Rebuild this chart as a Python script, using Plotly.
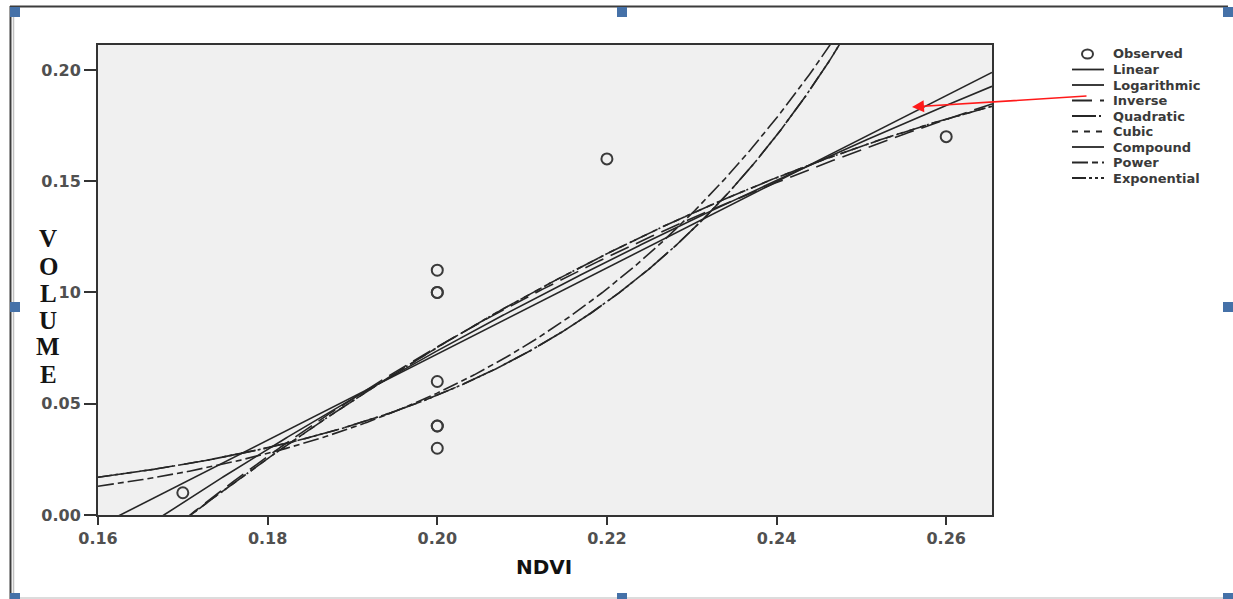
import numpy as np
import plotly.graph_objects as go

# ---------------- data ----------------
ndvi = [0.17, 0.20, 0.20, 0.20, 0.20, 0.20, 0.20, 0.20, 0.22, 0.26]
volume = [0.01, 0.11, 0.10, 0.10, 0.06, 0.04, 0.04, 0.03, 0.16, 0.17]

x_ticks = [0.16, 0.18, 0.20, 0.22, 0.24, 0.26]
x_tick_labels = ["0.16", "0.18", "0.20", "0.22", "0.24", "0.26"]
y_ticks = [0.00, 0.05, 0.10, 0.15, 0.20]
y_tick_labels = ["0.00", "0.05", "0.10", "0.15", "0.20"]
x_range = [0.16, 0.2654]
y_range = [0.0, 0.2112]

models = ["Linear", "Logarithmic", "Inverse", "Quadratic", "Cubic",
          "Compound", "Power", "Exponential"]
legend_labels = ["Observed"] + models
x_title = "NDVI"
y_title = "VOLUME"

# ---------------- curve estimation (least squares, SPSS-style) ----------------
X = np.array(ndvi, dtype=float)
Y = np.array(volume, dtype=float)
grid = np.linspace(x_range[0], x_range[1], 500)


def ols(cols, y):
    A = np.column_stack(cols)
    coef, *_ = np.linalg.lstsq(A, y, rcond=None)
    return coef


def poly_terms(deg, tol=1e-4):
    """Enter powers of x one by one, skipping terms failing the tolerance test."""
    keep = [0]
    for p in range(1, deg + 1):
        t = X ** p
        if len(keep) > 1:
            others = [X ** k for k in keep]
            c = ols(others, t)
            res = t - np.column_stack(others) @ c
            sst = np.sum((t - t.mean()) ** 2)
            if np.sum(res ** 2) / sst < tol:
                continue
        keep.append(p)
    return keep


def poly_fit(deg):
    keep = poly_terms(deg)
    c = ols([X ** k for k in keep], Y)
    return sum(ci * grid ** k for ci, k in zip(c, keep))


fits = {}
b = ols([np.ones_like(X), X], Y)
fits["Linear"] = b[0] + b[1] * grid
b = ols([np.ones_like(X), np.log(X)], Y)
fits["Logarithmic"] = b[0] + b[1] * np.log(grid)
b = ols([np.ones_like(X), 1.0 / X], Y)
fits["Inverse"] = b[0] + b[1] / grid
fits["Quadratic"] = poly_fit(2)
fits["Cubic"] = poly_fit(3)
b = ols([np.ones_like(X), X], np.log(Y))
fits["Compound"] = np.exp(b[0]) * np.exp(b[1]) ** grid
b = ols([np.ones_like(X), np.log(X)], np.log(Y))
fits["Power"] = np.exp(b[0]) * grid ** b[1]
b = ols([np.ones_like(X), X], np.log(Y))
fits["Exponential"] = np.exp(b[0]) * np.exp(b[1] * grid)

styles = {
    "Linear": "solid",
    "Logarithmic": "solid",
    "Inverse": "20px,8px",
    "Quadratic": "24px,3px,2px,3px",
    "Cubic": "6px,6px",
    "Compound": "34px,8px",
    "Power": "16px,4px,6px,4px",
    "Exponential": "14px,3px,3px,3px,3px,3px",
}

LINE = "#262626"

fig = go.Figure()
for m in models:
    fig.add_trace(go.Scatter(
        x=grid, y=fits[m], mode="lines", name=m, showlegend=False,
        line=dict(color=LINE, width=1.6, dash=styles[m]),
    ))
fig.add_trace(go.Scatter(
    x=ndvi, y=volume, mode="markers", name="Observed", showlegend=False,
    marker=dict(symbol="circle-open", size=11, color="#3a3a3a",
                line=dict(width=2, color="#3a3a3a")),
))

# ---------------- layout geometry (reference pixel coordinates) ----------------
W, H = 1233, 599
L, R, T, B = 98, 992, 45, 515


def px(xp):
    return (xp - L) / (R - L)


def py(yp):
    return (B - yp) / (B - T)


tick_font = dict(family="DejaVu Sans", size=16, color="#505050")

fig.update_layout(
    width=W, height=H,
    margin=dict(l=L, r=W - R, t=T, b=H - B),
    paper_bgcolor="white",
    plot_bgcolor="#f0f0f0",
    showlegend=False,
    xaxis=dict(range=x_range, tickvals=x_ticks,
               ticktext=["<b>%s</b>" % t for t in x_tick_labels],
               ticks="outside", ticklen=8, tickwidth=2, tickcolor="#333",
               showline=True, linecolor="#333", linewidth=2, mirror=True,
               showgrid=False, zeroline=False, tickfont=tick_font),
    yaxis=dict(range=y_range, tickvals=y_ticks,
               ticktext=["<b>%s</b>" % t for t in y_tick_labels],
               ticks="outside", ticklen=12, tickwidth=2, tickcolor="#333",
               showline=True, linecolor="#333", linewidth=2, mirror=True,
               showgrid=False, zeroline=False, tickfont=tick_font),
)

annotations = []
shapes = []

# x-axis title
annotations.append(dict(
    x=px(544), y=py(567), xref="paper", yref="paper", text="<b>%s</b>" % x_title,
    showarrow=False, xanchor="center", yanchor="middle",
    font=dict(family="DejaVu Sans", size=20, color="#111"),
))

# stacked y-axis title letters (they hide parts of two tick labels)
letter_y = [238, 266, 293, 320, 347, 374]
for ch, yp in zip(y_title, letter_y):
    annotations.append(dict(
        x=px(48), y=py(yp), xref="paper", yref="paper", text="<b>%s</b>" % ch,
        showarrow=False, xanchor="center", yanchor="middle",
        bgcolor="white", borderpad=2,
        font=dict(family="Liberation Serif", size=25, color="#141414"),
    ))

# manual legend
row0, step = 54, 15.5
for i, lab in enumerate(legend_labels):
    yp = row0 + i * step
    annotations.append(dict(
        x=px(1111), y=py(yp), xref="paper", yref="paper", text="<b>%s</b>" % lab,
        showarrow=False, xanchor="left", yanchor="middle",
        font=dict(family="DejaVu Sans", size=13, color="#3a3a3a"),
    ))
    if lab == "Observed":
        shapes.append(dict(type="circle", xref="paper", yref="paper",
                           x0=px(1082), x1=px(1093), y0=py(yp + 4.5), y1=py(yp - 4.5),
                           line=dict(color="#3a3a3a", width=2)))
    else:
        shapes.append(dict(type="line", xref="paper", yref="paper",
                           x0=px(1072), x1=px(1104), y0=py(yp), y1=py(yp),
                           line=dict(color=LINE, width=1.8, dash=styles[lab])))

# red arrow pointing into the plot
annotations.append(dict(
    x=px(912), y=py(107), xref="paper", yref="paper", text="",
    showarrow=True, ax=176, ay=-11, axref="pixel", ayref="pixel",
    arrowhead=2, arrowsize=1.6, arrowwidth=1.5, arrowcolor="#ff1a1a",
))

# document frame and selection handles
shapes.append(dict(type="line", xref="paper", yref="paper",
                   x0=px(10), x1=px(1228), y0=py(6.5), y1=py(6.5),
                   line=dict(color="#3c3c3c", width=2)))
shapes.append(dict(type="line", xref="paper", yref="paper",
                   x0=px(10.5), x1=px(10.5), y0=py(6), y1=py(599),
                   line=dict(color="#3c3c3c", width=2)))
shapes.append(dict(type="line", xref="paper", yref="paper",
                   x0=px(13.5), x1=px(13.5), y0=py(7), y1=py(599),
                   line=dict(color="#c0c0c0", width=1.5)))
shapes.append(dict(type="line", xref="paper", yref="paper",
                   x0=px(10), x1=px(1233), y0=py(598), y1=py(598),
                   line=dict(color="#d0d0d0", width=1.5)))
handles = [(10, 7), (617, 7), (1223, 7), (10, 302), (1223, 302),
           (10, 593), (617, 593), (1223, 593)]
for hx, hy in handles:
    shapes.append(dict(type="rect", xref="paper", yref="paper",
                       x0=px(hx), x1=px(hx + 10), y0=py(hy + 10), y1=py(hy),
                       line=dict(width=0), fillcolor="#4571a8"))

fig.update_layout(annotations=annotations, shapes=shapes)
fig.write_html(
    "out.html",
    config={"displayModeBar": False},
    post_script="document.body.style.margin='0px';"
                "document.documentElement.style.overflow='hidden';"
                "document.body.style.overflow='hidden';",
)
